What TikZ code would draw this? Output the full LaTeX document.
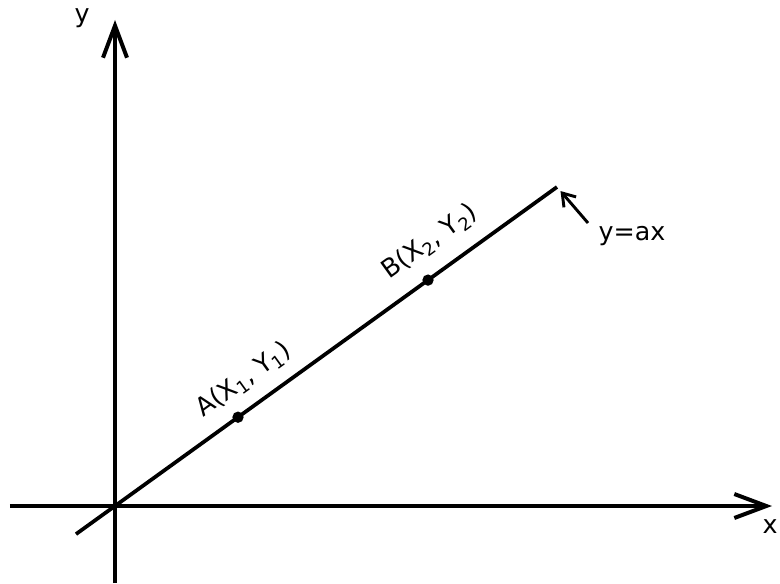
\documentclass[tikz,border=0pt]{standalone}
\usepackage{fontspec}
\setmainfont{DejaVu Sans}
\usetikzlibrary{arrows.meta}
\definecolor{linInk}{HTML}{000000}
\tikzset{
  lin axis/.style={draw=linInk, line width=3pt, -{Straight Barb[length=24pt, width=18pt]}},
  lin line/.style={draw=linInk, line width=2.8pt},
  lin pointer/.style={draw=linInk, line width=2.2pt, shorten >=4pt, -{Straight Barb[length=9pt, width=12pt]}},
  lin dot/.style={circle, fill=linInk, minimum size=8.5pt, inner sep=0pt},
  lin label/.style={font=\fontsize{19}{22}\selectfont, text=linInk, inner sep=0pt},
}

\begin{document}
\begin{tikzpicture}[x=0.75pt, y=0.75pt]
  % Frame: 780 x 583 px, origin where the axes cross
  \useasboundingbox (-115,-77) rectangle (665,506);

  % Axes
  \coordinate (xs) at (-105,0);
  \coordinate (xe) at (657,0);
  \coordinate (ys) at (0,-77);
  \coordinate (ye) at (0,486);
  \draw[lin axis] (xs) -- (xe);
  \draw[lin axis] (ys) -- (ye);
  \node[lin label] (xlab) at (655,-21) {x};
  \node[lin label] (ylab) at (-33,488) {y};

  % Line y=ax
  \coordinate (lo) at (-39,-28.1);
  \coordinate (hi) at (442,319);
  \draw[lin line] (lo) -- (hi);

  % Points
  \node[lin dot] (ptA) at (123,88.8) {};
  \node[lin dot] (ptB) at (313,225.9) {};
  \node[lin label, rotate=35.8] (labA) at (129,126) {A(X\textsubscript{1}, Y\textsubscript{1})};
  \node[lin label, rotate=35.8] (labB) at (315,264) {B(X\textsubscript{2}, Y\textsubscript{2})};

  % Equation label
  \node[lin label] (eq) at (517,270) {y=ax};
  \coordinate (tail) at (473,283);
  \draw[lin pointer] (tail) -- (hi);
\end{tikzpicture}
\end{document}
